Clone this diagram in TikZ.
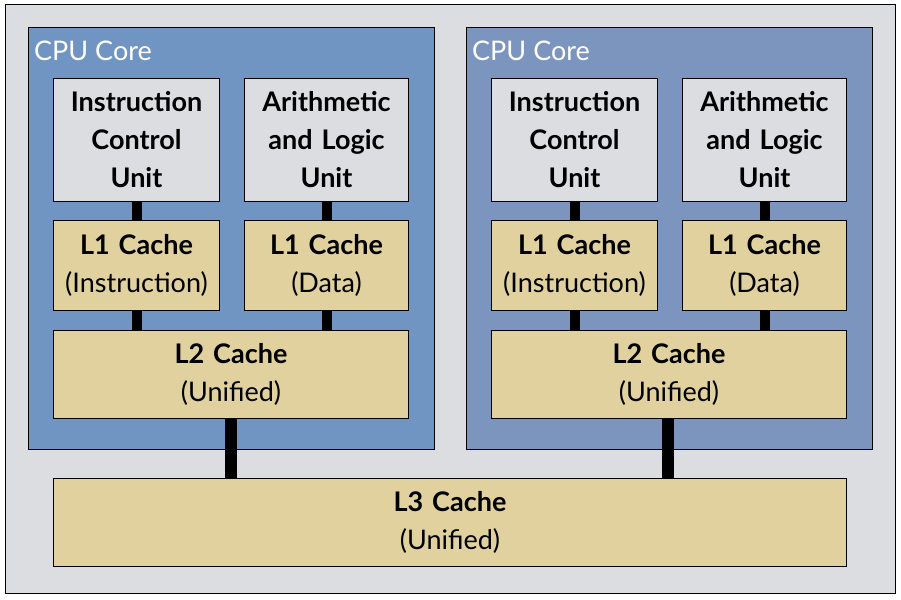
\documentclass[tikz,border=0pt]{standalone}
\usepackage{fontspec}
\setmainfont{Lato}
\begin{document}
\begin{tikzpicture}[x=1pt,y=-1pt,
  box/.style={draw=black,line width=1pt,anchor=north west,inner sep=0pt,align=center,font=\fontsize{27}{38}\selectfont},
  cache/.style={box,fill=cacheY},
  core/.style={draw=black,line width=1pt},
  link/.style={line width=10pt}]
\definecolor{cacheY}{HTML}{E0D19E}
\definecolor{coreA}{HTML}{7095C3}
\definecolor{coreB}{HTML}{7C95BF}
\definecolor{bg}{HTML}{DCDDE0}
\definecolor{unit}{HTML}{DCDDE0}
\useasboundingbox (0,0) rectangle (901,599);
\fill[white] (0,0) rectangle (901,599);
\draw[fill=bg,line width=1pt] (5,5) rectangle (895,593);
\foreach \ox/\cc/\s in {0/coreA/a,438/coreB/b}{
  \begin{scope}[xshift=\ox]
  \draw[core,fill=\cc] (28,28) rectangle (434,449);
  \node[anchor=west,text=white,font=\fontsize{27}{30}\selectfont,inner sep=0pt] (title\s) at (34,51) {CPU Core};
  \node[box,fill=unit,minimum width=166,minimum height=123,text width=164] (icu\s) at (53,78) {\textbf{Instruction}\\\textbf{Control}\\\textbf{Unit}};
  \node[box,fill=unit,minimum width=164,minimum height=123,text width=162] (alu\s) at (244,78) {\textbf{Arithmetic}\\\textbf{and Logic}\\\textbf{Unit}};
  \node[cache,minimum width=166,minimum height=90,text width=164] (l1i\s) at (53,220) {\textbf{L1 Cache}\\(Instruction)};
  \node[cache,minimum width=164,minimum height=90,text width=162] (l1d\s) at (244,220) {\textbf{L1 Cache}\\(Data)};
  \node[cache,minimum width=355,minimum height=88,text width=340] (l2\s) at (53,330) {\textbf{L2 Cache}\\(Unified)};
  \draw[link] (icu\s.south) -- (l1i\s.north);
  \draw[link] (alu\s.south) -- (l1d\s.north);
  \draw[link] (l1i\s.south) -- (l1i\s.south |- l2\s.north);
  \draw[link] (l1d\s.south) -- (l1d\s.south |- l2\s.north);
  \end{scope}}
\node[cache,minimum width=793,minimum height=88,text width=700] (l3) at (53,478) {\textbf{L3 Cache}\\(Unified)};
\draw[line width=12pt] (231,418) -- (231,478);
\draw[line width=12pt] (668,418) -- (668,478);
\end{tikzpicture}
\end{document}
